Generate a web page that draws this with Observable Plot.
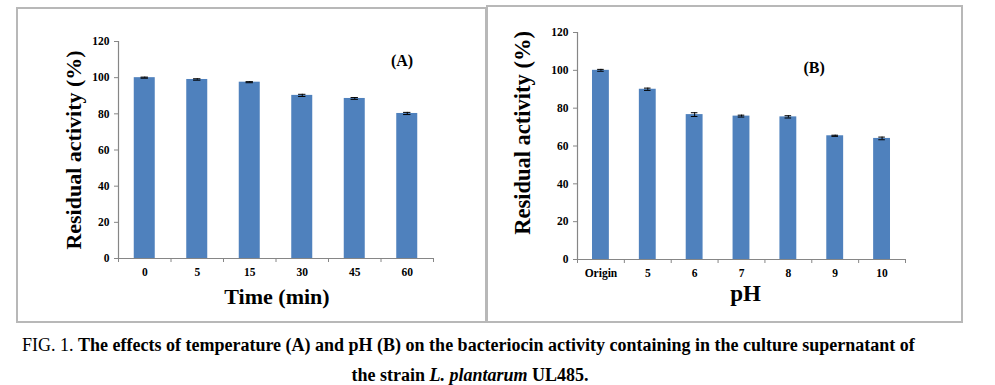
<!DOCTYPE html>
<html>
<head>
<meta charset="utf-8">
<script src="https://cdn.jsdelivr.net/npm/d3@7"></script>
<script src="https://cdn.jsdelivr.net/npm/@observablehq/plot@0.6"></script>
<style>
  html, body { margin: 0; padding: 0; background: #fff; }
  #page { position: relative; width: 995px; height: 385px; background: #fff; overflow: hidden; }
  .box { position: absolute; box-sizing: border-box; border: 2px solid #b8b8b8; }
  .plot { position: absolute; }
  #caption { position: absolute; left: 0; width: 940px; top: 330px; text-align: center;
             font-family: "Liberation Serif", "Times New Roman", serif; font-size: 18px; line-height: 30px; color: #000; }
  #caption .l1 { position: absolute; left: 22px; top: 0; white-space: nowrap; text-align: left; }
  #caption .l2 { position: absolute; left: 0; width: 940px; top: 30px; white-space: nowrap; }
</style>
</head>
<body>
<div id="page">
  <div class="box" style="left:16px;top:7px;width:471px;height:316px;"></div>
  <div class="box" style="left:486px;top:5px;width:477px;height:318px;"></div>
  <div id="caption">
    <div class="l1">FIG. 1. <b>The effects of temperature (A) and pH (B) on the bacteriocin activity containing in the culture supernatant of</b></div>
    <div class="l2"><b>the strain <i>L. plantarum</i> UL485.</b></div>
  </div>
</div>
<script>
// ---- data ----
const timeLabels = ["0", "5", "15", "30", "45", "60"];
const timeValues = [100, 99, 97.5, 90.2, 88.5, 80.2];
const timeErrors = [0.3, 0.4, 0.3, 0.6, 0.5, 0.6];

const phLabels = ["Origin", "5", "6", "7", "8", "9", "10"];
const phValues = [100, 90, 76.6, 75.8, 75.4, 65.4, 64];
const phErrors = [0.5, 0.6, 1.0, 0.5, 0.6, 0.3, 0.7];

const yTicks = [0, 20, 40, 60, 80, 100, 120];
const yLabel = "Residual activity (%)";
const xLabelA = "Time (min)";
const xLabelB = "pH";
const tagA = "(A)";
const tagB = "(B)";

const barColor = "#4F81BD";
const axisColor = "#868686";
const font = "'Liberation Serif', 'Times New Roman', serif";

function panel(cfg) {
  const n = cfg.labels.length;
  const rows = cfg.labels.map((l, i) => ({i, label: l, v: cfg.values[i], e: cfg.errors[i]}));
  const bounds = d3.range(n + 1).map(k => k - 0.5);
  const hw = cfg.half;
  const cap = 0.07;
  return Plot.plot({
    width: cfg.width, height: cfg.height,
    marginLeft: cfg.ml, marginRight: cfg.mr, marginTop: cfg.mt, marginBottom: cfg.mb,
    style: {fontFamily: font, fontSize: "11.5px", fontWeight: "bold", color: "#000", background: "transparent", overflow: "visible"},
    x: {domain: [-0.5, n - 0.5]},
    y: {domain: [0, 120]},
    marks: [
      Plot.rectY(rows, {x1: d => d.i - hw, x2: d => d.i + hw, y1: 0, y2: "v", fill: barColor}),
      Plot.ruleX(rows, {x: "i", y1: d => d.v - d.e, y2: d => d.v + d.e, stroke: "#000", strokeWidth: 1}),
      Plot.ruleY(rows, {y: d => d.v + d.e, x1: d => d.i - cap, x2: d => d.i + cap, stroke: "#000", strokeWidth: 1}),
      Plot.ruleY(rows, {y: d => d.v - d.e, x1: d => d.i - cap, x2: d => d.i + cap, stroke: "#000", strokeWidth: 1}),
      Plot.ruleY([0], {stroke: axisColor, strokeWidth: 1.2}),
      Plot.ruleX([-0.5], {stroke: axisColor, strokeWidth: 1.2}),
      Plot.axisY({ticks: yTicks, tickSize: 4, tickPadding: 5, stroke: axisColor, label: null, tickFormat: d => String(d)}),
      Plot.axisX({ticks: bounds, tickSize: 4, stroke: axisColor, tickFormat: () => "", label: null}),
      Plot.axisX({ticks: d3.range(n), tickSize: 0, tickPadding: cfg.xpad, tickFormat: i => cfg.labels[i], label: null}),
      Plot.text([yLabel], {text: d => d, frameAnchor: "left", textAnchor: "middle", lineAnchor: "middle", dx: -cfg.ylabOff, dy: cfg.ylabDy, rotate: -90, fontSize: cfg.ylabSize, fontWeight: "bold", fill: "#000"}),
      Plot.text([cfg.xLabel], {text: d => d, frameAnchor: "bottom", textAnchor: "middle", lineAnchor: "middle", dy: cfg.xlabOff, dx: cfg.xlabDx, fontSize: cfg.xlabSize, fontWeight: "bold", fill: "#000"}),
      Plot.text([cfg.tag], {text: d => d, x: cfg.tagX, y: cfg.tagY, fontSize: 16, fontWeight: "bold", fill: "#000"})
    ]
  });
}

const page = document.getElementById("page");

const a = panel({
  labels: timeLabels, values: timeValues, errors: timeErrors, half: 0.2,
  width: 469, height: 314, ml: 102, mr: 52, mt: 34, mb: 63, xpad: 9,
  ylabOff: 45, ylabDy: 0, ylabSize: 22, xLabel: xLabelA, xlabOff: 38, xlabDx: 1, xlabSize: 22,
  tag: tagA, tagX: 4.9, tagY: 109.5
});
a.classList.add("plot");
a.style.left = "16px"; a.style.top = "7px";
page.appendChild(a);

const b = panel({
  labels: phLabels, values: phValues, errors: phErrors, half: 0.18,
  width: 473, height: 316, ml: 89, mr: 56, mt: 27, mb: 62, xpad: 9,
  ylabOff: 55, ylabDy: -13, ylabSize: 22.5, xLabel: xLabelB, xlabOff: 34, xlabDx: 4, xlabSize: 23,
  tag: tagB, tagX: 4.55, tagY: 101.5
});
b.classList.add("plot");
b.style.left = "488px"; b.style.top = "5px";
page.appendChild(b);
</script>
</body>
</html>
